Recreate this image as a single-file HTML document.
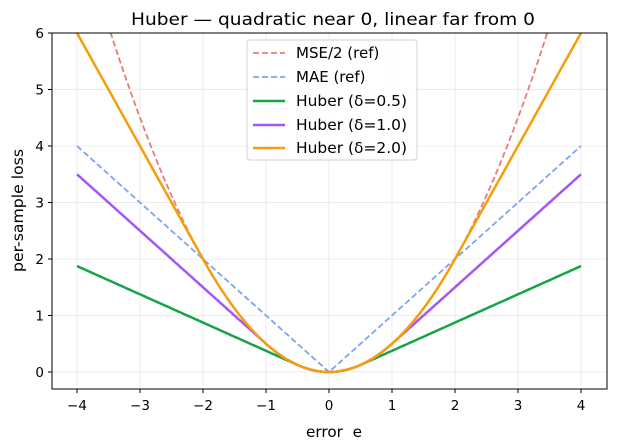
<!DOCTYPE html>
<html><head><meta charset="utf-8"><style>
body{margin:0;background:#fff}
svg{display:block;font-family:"DejaVu Sans","Liberation Sans",sans-serif}
</style></head><body>
<svg id="s" width="617" height="447" viewBox="0 0 617 447">
<defs><clipPath id="c"><rect x="52" y="33" width="555" height="356"/></clipPath></defs>
<rect width="617" height="447" fill="#fff"/>
<g id="grid" stroke="#e6e6e6" stroke-width="0.8"></g>
<g id="lines" clip-path="url(#c)" fill="none"></g>
<rect x="52" y="33" width="555" height="356" fill="none" stroke="#000" stroke-width="1"/>
<g id="ticks" font-size="13.5" fill="#000"></g>
<text x="131" y="25" font-size="17" textLength="404" lengthAdjust="spacingAndGlyphs">Huber — quadratic near 0, linear far from 0</text>
<text x="306" y="437" font-size="15" textLength="56" lengthAdjust="spacingAndGlyphs" xml:space="preserve">error  e</text>
<text transform="translate(23,272) rotate(-90)" font-size="15" textLength="123" lengthAdjust="spacingAndGlyphs">per-sample loss</text>
<g>
<rect x="247" y="40" width="170" height="120" rx="3" fill="#fff" fill-opacity="0.85" stroke="#d0d0d0"/>
<line x1="253" y1="53" x2="285" y2="53" stroke="#ea7b7b" stroke-width="1.8" stroke-dasharray="6,3"/>
<line x1="253" y1="77" x2="285" y2="77" stroke="#7ba5ee" stroke-width="1.8" stroke-dasharray="6,3"/>
<line x1="253" y1="101" x2="285" y2="101" stroke="#16a34a" stroke-width="2.5"/>
<line x1="253" y1="125" x2="285" y2="125" stroke="#a855f7" stroke-width="2.5"/>
<line x1="253" y1="148" x2="285" y2="148" stroke="#f59e0b" stroke-width="2.5"/>
<g font-size="15"><text x="296" y="58">MSE/2 (ref)</text><text x="296" y="82">MAE (ref)</text><text x="296" y="106" textLength="111" lengthAdjust="spacingAndGlyphs">Huber (δ=0.5)</text><text x="296" y="130" textLength="111" lengthAdjust="spacingAndGlyphs">Huber (δ=1.0)</text><text x="296" y="153" textLength="111" lengthAdjust="spacingAndGlyphs">Huber (δ=2.0)</text></g>
</g>
</svg>
<script>
var X=e=>329+e*63.0, Y=v=>372-v*56.5;
var ns="http://www.w3.org/2000/svg";
function el(p,t,a,txt){var n=document.createElementNS(ns,t);for(var k in a)n.setAttribute(k,a[k]);if(txt!=null)n.textContent=txt;document.getElementById(p).appendChild(n);}
for(var i=-4;i<=4;i++){el("grid","line",{x1:X(i),x2:X(i),y1:33,y2:389});el("ticks","line",{x1:X(i),x2:X(i),y1:389,y2:393,stroke:"#000"});el("ticks","text",{x:X(i),y:410,"text-anchor":"middle"},(i<0?"−":"")+Math.abs(i));}
for(var j=0;j<=6;j++){el("grid","line",{x1:52,x2:607,y1:Y(j),y2:Y(j)});el("ticks","line",{x1:48,x2:52,y1:Y(j),y2:Y(j),stroke:"#000"});el("ticks","text",{x:44,y:Y(j)+5,"text-anchor":"end"},j);}
function path(f){var d="";for(var k=0;k<=400;k++){var e=-4+k*0.02;d+=(k?"L":"M")+X(e).toFixed(1)+","+Y(f(e)).toFixed(1);}return d;}
function hub(d){return e=>{var a=Math.abs(e);return a<=d?0.5*e*e:d*(a-0.5*d);};}
el("lines","path",{d:path(e=>0.5*e*e),stroke:"#ea7b7b","stroke-width":1.8,"stroke-dasharray":"6,3"});
el("lines","path",{d:path(e=>Math.abs(e)),stroke:"#7ba5ee","stroke-width":1.8,"stroke-dasharray":"6,3"});
el("lines","path",{d:path(hub(0.5)),stroke:"#16a34a","stroke-width":2.5});
el("lines","path",{d:path(hub(1)),stroke:"#a855f7","stroke-width":2.5});
el("lines","path",{d:path(hub(2)),stroke:"#f59e0b","stroke-width":2.5});
</script>
</body></html>
